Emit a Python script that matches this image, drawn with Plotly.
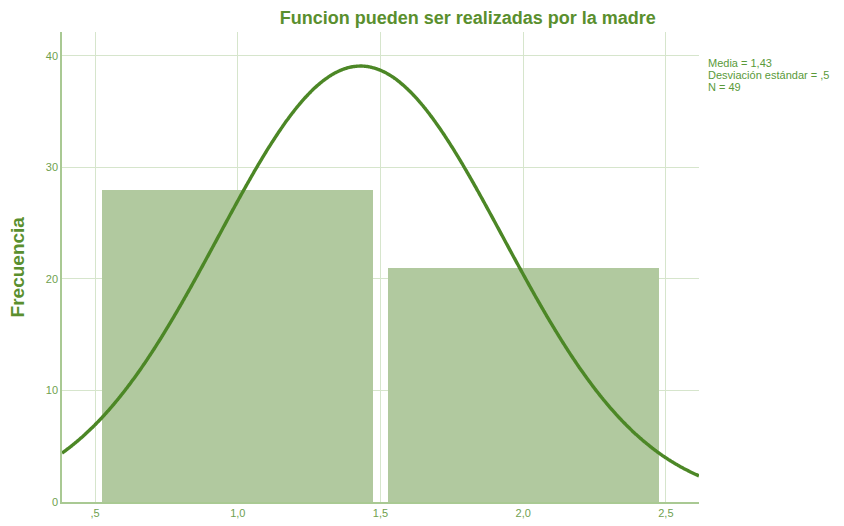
import numpy as np
import plotly.graph_objects as go

# Data
bin_centers = [1.0, 2.0]
frequencies = [28, 21]
bar_width = 0.95
media = 1.43
desviacion = 0.5
n_total = 49
bin_size = 1.0
x_ticks = [0.5, 1.0, 1.5, 2.0, 2.5]
x_tick_labels = [",5", "1,0", "1,5", "2,0", "2,5"]
y_ticks = [0, 10, 20, 30, 40]
stats_lines = ["Media = 1,43", "Desviación estándar = ,5", "N = 49"]

x_range = [0.384, 2.616]
y_range = [0, 42.15]

# Fitted normal curve (from mean, sd, N)
xc = np.linspace(x_range[0], x_range[1], 600)
yc = n_total * bin_size / (desviacion * np.sqrt(2 * np.pi)) * np.exp(-((xc - media) ** 2) / (2 * desviacion ** 2))

fig = go.Figure()
fig.add_trace(go.Bar(x=bin_centers, y=frequencies, width=bar_width,
                     marker=dict(color="#b1c99f", line=dict(width=0)), showlegend=False))
fig.add_trace(go.Scatter(x=xc, y=yc, mode="lines", line=dict(color="#4c8726", width=3.4, shape="spline"),
                         showlegend=False))

green_text = "#6f9f4f"
W, H = 836, 518
fig.update_layout(
    width=W, height=H,
    margin=dict(l=54, r=145, t=24, b=24, autoexpand=False),
    paper_bgcolor="white", plot_bgcolor="white",
    font=dict(family="Liberation Sans, Arial, sans-serif", color=green_text, size=11),
    title=dict(text="<b>Funcion pueden ser realizadas por la madre</b>",
               x=0.550, xanchor="center", y=0.981, yanchor="middle",
               font=dict(size=18, color="#5a8f2e")),
    xaxis=dict(range=x_range, tickvals=x_ticks, ticktext=x_tick_labels, automargin=False,
               showgrid=True, gridcolor="#d6e5cc", gridwidth=1,
               showline=True, linecolor="#a9c993", linewidth=1.5,
               ticks="", zeroline=False, tickfont=dict(size=11, color=green_text)),
    yaxis=dict(range=y_range, tickvals=y_ticks, automargin=False,
               showgrid=True, gridcolor="#d6e5cc", gridwidth=1,
               showline=True, linecolor="#a9c993", linewidth=1.5,
               ticks="", zeroline=False, tickfont=dict(size=11, color=green_text)),
    bargap=0,
)

fig.add_annotation(xref="paper", yref="paper", x=-0.070, y=0.5, xanchor="center", yanchor="middle",
                   text="<b>Frecuencia</b>", textangle=-90, showarrow=False,
                   font=dict(size=19, color="#5a8f2e"))

for i, line in enumerate(stats_lines):
    fig.add_annotation(xref="paper", yref="paper", x=1.011, y=0.934 - i * 0.0255,
                       xanchor="left", yanchor="middle", text=line,
                       showarrow=False, align="left",
                       font=dict(size=11, color="#5a9a3a"))

fig.write_html("out.html")
